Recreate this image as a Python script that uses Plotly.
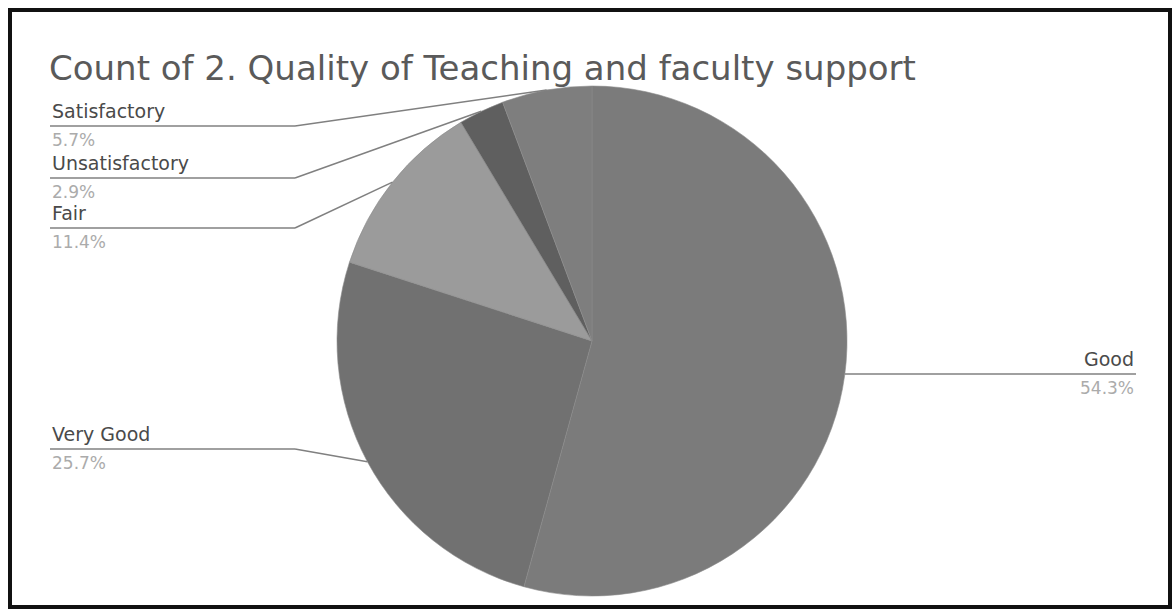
import math
import plotly.graph_objects as go

# ---- data ----
categories = ["Good", "Very Good", "Fair", "Unsatisfactory", "Satisfactory"]
percentages = [54.3, 25.7, 11.4, 2.9, 5.7]
title_text = "Count of 2. Quality of Teaching and faculty support"

# ---- style ----
slice_colors = ["#7b7b7b", "#717171", "#9b9b9b", "#5f5f5f", "#7e7e7e"]
W, H = 1176, 614
CX, CY, R = 592, 341, 255  # pie centre / radius in pixels

# label layout (pixel positions): side, text x, line y
label_layout = {
    "Satisfactory":   ("left", 50, 126),
    "Unsatisfactory": ("left", 50, 178),
    "Fair":           ("left", 50, 228),
    "Very Good":      ("left", 50, 449),
    "Good":           ("right", 1136, 374),
}
ELBOW_X = 295


def px(x):
    return x / W


def py(y):
    return 1 - y / H


fig = go.Figure()
fig.add_trace(go.Pie(
    labels=categories,
    values=percentages,
    sort=False,
    direction="clockwise",
    rotation=0,
    marker=dict(colors=slice_colors, line=dict(color="#8c8c8c", width=0.6)),
    textinfo="none",
    hoverinfo="label+percent",
    showlegend=False,
    domain=dict(x=[px(CX - R), px(CX + R)], y=[py(CY + R), py(CY - R)]),
))

shapes = []
annotations = []
total = sum(percentages)
cum = 0.0
for cat, val in zip(categories, percentages):
    mid = (cum + val / 2) / total * 2 * math.pi
    cum += val
    ex = CX + R * math.sin(mid)
    ey = CY - R * math.cos(mid)
    side, tx, ly = label_layout[cat]
    pct = f"{val / total * 100:.1f}%"
    if side == "left":
        pts = [(tx, ly), (ELBOW_X, ly), (ex, ey)]
        anchor = "left"
    else:
        pts = [(ex, ly), (tx, ly)]
        anchor = "right"
    for (x0, y0), (x1, y1) in zip(pts[:-1], pts[1:]):
        shapes.append(dict(type="line", xref="paper", yref="paper",
                           x0=px(x0), y0=py(y0), x1=px(x1), y1=py(y1),
                           line=dict(color="#808080", width=1.5)))
    annotations.append(dict(text=cat, x=px(tx), y=py(ly - 2), xref="paper", yref="paper",
                            xanchor=anchor, yanchor="bottom", showarrow=False,
                            font=dict(family="DejaVu Sans", size=19, color="#4a4a4a")))
    annotations.append(dict(text=pct, x=px(tx), y=py(ly + 2), xref="paper", yref="paper",
                            xanchor=anchor, yanchor="top", showarrow=False,
                            font=dict(family="DejaVu Sans", size=17, color="#ababab")))

annotations.append(dict(text=title_text, x=px(47), y=py(68), xref="paper", yref="paper",
                        xanchor="left", yanchor="middle", showarrow=False,
                        font=dict(family="DejaVu Sans", size=34, color="#5a5a5a")))

# outer frame
shapes.append(dict(type="rect", xref="paper", yref="paper",
                   x0=px(10), y0=py(607), x1=px(1170), y1=py(10),
                   line=dict(color="#111111", width=4)))

fig.update_layout(
    width=W, height=H,
    margin=dict(l=0, r=0, t=0, b=0),
    paper_bgcolor="white",
    plot_bgcolor="white",
    shapes=shapes,
    annotations=annotations,
)

fig.write_html("out.html", config={"displayModeBar": False},
               post_script="document.body.style.margin='0px';")
